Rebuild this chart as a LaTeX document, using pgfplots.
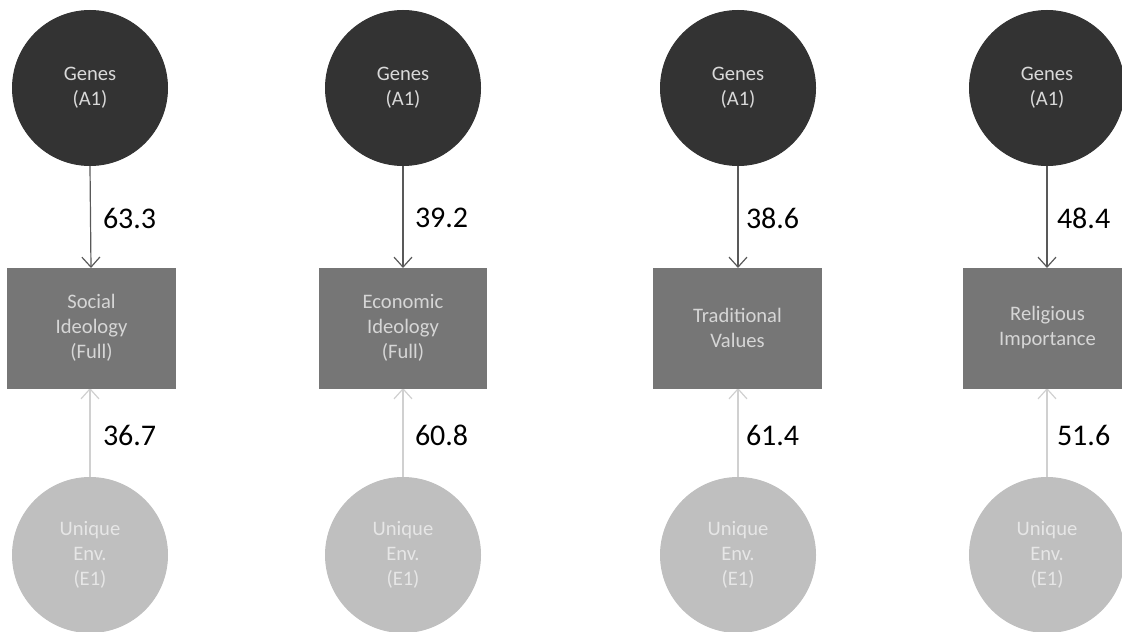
\documentclass[border=0pt]{standalone}
\usepackage{fontspec}
\setmainfont{Carlito}
\usepackage{pgfplots}
\pgfplotsset{compat=1.18}
\usetikzlibrary{arrows.meta}
\definecolor{gdark}{HTML}{333333}
\definecolor{boxc}{HTML}{767676}
\definecolor{envc}{HTML}{BFBFBF}
\definecolor{gtext}{HTML}{D9D9D9}
\definecolor{btext}{HTML}{D6D6D6}
\definecolor{etext}{HTML}{E6E6E6}
\definecolor{arrD}{HTML}{595959}
\definecolor{arrL}{HTML}{D0D0D0}
\begin{document}
\begin{tikzpicture}
\begin{axis}[
  width=561pt, height=315.5pt, scale only axis,
  xmin=0, xmax=1122, ymin=0, ymax=631, y dir=reverse,
  hide axis, clip=false,
]
% Genes circles
\addplot[only marks, mark=*, mark size=38.75pt,
  mark options={draw=gdark, fill=gdark, line width=0.5pt},
  point meta=explicit symbolic, nodes near coords,
  nodes near coords style={anchor=center, align=center, text=gtext, inner sep=0pt,
    font=\fontsize{10.3}{12.5}\selectfont}]
coordinates {(90,88) [{Genes\\(A1)}] (403,88) [{Genes\\(A1)}] (738,88) [{Genes\\(A1)}] (1047,88) [{Genes\\(A1)}]};
% Unique environment circles
\addplot[only marks, mark=*, mark size=38.75pt,
  mark options={draw=envc, fill=envc, line width=0.5pt},
  point meta=explicit symbolic, nodes near coords,
  nodes near coords style={anchor=center, align=center, text=etext, inner sep=0pt,
    font=\fontsize{10.3}{12.5}\selectfont}]
coordinates {(90,555) [{Unique\\Env.\\(E1)}] (403,555) [{Unique\\Env.\\(E1)}] (738,555) [{Unique\\Env.\\(E1)}] (1047,555) [{Unique\\Env.\\(E1)}]};
% Trait boxes
\addplot[only marks, mark=square*, mark size=30pt,
  mark options={draw=boxc, fill=boxc, line width=0.5pt, xscale=1.392},
  point meta=explicit symbolic, nodes near coords,
  nodes near coords style={anchor=center, align=center, text=btext, inner sep=0pt,
    font=\fontsize{10.3}{12.5}\selectfont}]
coordinates {(91.5,328) [{Social\\Ideology\\(Full)}] (403,328) [{Economic\\Ideology\\(Full)}] (737.5,328) [{Traditional\\Values}] (1047.5,328) [{Religious\\Importance}]};
% Genetic paths
\addplot[arrD, line width=0.6pt, -{Straight Barb[length=5pt, width=9pt]},
  quiver={u=\thisrow{u}, v=\thisrow{v}}]
table {
x y u v
90 166 1 102
403 166 0 102
738 166 0 102
1047 166 0 102
};
% Environment paths
\addplot[arrL, line width=0.6pt, -{Straight Barb[length=5pt, width=9pt]},
  quiver={u=\thisrow{u}, v=\thisrow{v}}]
table {
x y u v
90 477 0 -89
403 477 0 -89
738 477 0 -89
1047 477 0 -89
};
% Path coefficients
\addplot[only marks, mark=*, mark size=0pt, mark options={draw=white, fill=white, line width=0pt},
  point meta=explicit symbolic, nodes near coords,
  nodes near coords style={anchor=west, inner sep=0pt, text=black, text opacity=1,
    font=\fontsize{15}{18}\selectfont}]
coordinates {(103,218) [63.3] (415,218) [39.2] (746,218) [38.6] (1057,218) [48.4]
  (103,435) [36.7] (415,435) [60.8] (746,435) [61.4] (1057,435) [51.6]};
\end{axis}
\pgfresetboundingbox
\useasboundingbox (current axis.south west) rectangle (current axis.north east);
\end{tikzpicture}
\end{document}
